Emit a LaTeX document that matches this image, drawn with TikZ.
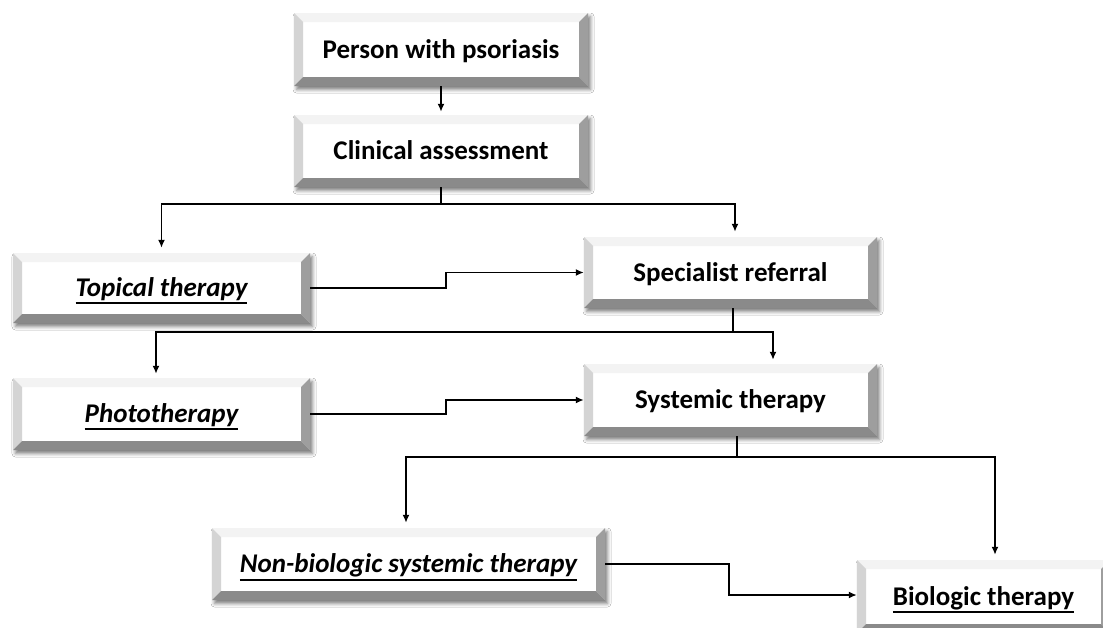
\documentclass[tikz,border=0pt]{standalone}
\usepackage{fontspec}
\setmainfont{Carlito}
\usetikzlibrary{arrows.meta,shadows.blur}

\definecolor{bevtop}{HTML}{F3F3F3}
\definecolor{bevleft}{HTML}{D4D4D4}
\definecolor{bevright}{HTML}{9E9E9E}
\definecolor{bevbottom}{HTML}{8A8A8A}

% underlined label text; the rule sits below the descenders and takes no room
\newcommand{\undl}[1]{\setbox0=\hbox{#1}%
  \rlap{\smash{\raisebox{\dimexpr-\dp0-3.3pt\relax}{\rule{\wd0}{1.8pt}}}}\box0}

\tikzset{
  bevelbox/.style={
    rectangle, fill=white, inner sep=0pt, align=center,
    text height=20pt, text depth=2.6pt,
    font=\fontsize{27}{32}\selectfont\bfseries,
    blur shadow={shadow xshift=2.5pt, shadow yshift=-3.5pt,
                 shadow blur radius=3.5pt, shadow opacity=50},
    path picture={
      \coordinate (bNW) at (path picture bounding box.north west);
      \coordinate (bNE) at (path picture bounding box.north east);
      \coordinate (bSW) at (path picture bounding box.south west);
      \coordinate (bSE) at (path picture bounding box.south east);
      \fill[bevtop] (bNW) -- (bNE) -- ([shift={(-9pt,-9pt)}]bNE)
        -- ([shift={(9pt,-9pt)}]bNW) -- cycle;
      \fill[bevleft] (bNW) -- ([shift={(9pt,-9pt)}]bNW)
        -- ([shift={(9pt,9pt)}]bSW) -- (bSW) -- cycle;
      \fill[bevright] (bNE) -- (bSE) -- ([shift={(-9pt,9pt)}]bSE)
        -- ([shift={(-9pt,-9pt)}]bNE) -- cycle;
      \fill[bevbottom] (bSW) -- (bSE) -- ([shift={(-9pt,9pt)}]bSE)
        -- ([shift={(9pt,9pt)}]bSW) -- cycle;
    }},
  conn/.style={line width=1.8pt, black},
  arr/.style={conn, -{Latex[length=8pt,width=7pt]}},
}

\begin{document}
\begin{tikzpicture}[x=1pt,y=-1pt]
\clip (0,0) rectangle (1103,627);
\fill[white] (0,0) rectangle (1103,627);

% boxes
\node[bevelbox, minimum width=294pt, minimum height=73pt] (person) at (441,49.5) {Person with psoriasis};
\node[bevelbox, minimum width=294pt, minimum height=72pt] (clinical) at (441,151) {Clinical assessment};
\node[bevelbox, minimum width=297pt, minimum height=70pt] (topical) at (161.5,288) {\undl{\itshape Topical therapy}};
\node[bevelbox, minimum width=293pt, minimum height=71pt] (specialist) at (730.5,272.5) {Specialist referral};
\node[bevelbox, minimum width=297pt, minimum height=72pt] (photo) at (161.5,414) {\undl{\itshape Phototherapy}};
\node[bevelbox, minimum width=293pt, minimum height=72pt] (systemic) at (730.5,400) {Systemic therapy};
\node[bevelbox, minimum width=393pt, minimum height=72pt] (nonbio) at (408.5,564) {\undl{\itshape Non-biologic systemic therapy}};
\node[bevelbox, minimum width=253pt, minimum height=73pt] (biologic) at (983.5,596.5) {\undl{Biologic therapy}};

% junction points
\coordinate (j1) at (441,204);
\coordinate (j2) at (733,332);
\coordinate (j3) at (737,457);

% connectors
\draw[arr, shorten >=3pt] (person.south) -- (clinical.north);

\draw[conn] (clinical.south) -- (j1);
\draw[arr, shorten >=5pt] (j1) -| (topical.north);
\draw[arr, shorten >=5pt] (j1) -| ([xshift=4.5pt]specialist.north);

\draw[arr] (topical.east) -- ++(136,0) |- (specialist.west);

\draw[conn] ([xshift=2.5pt]specialist.south) -- (j2);
\draw[arr, shorten >=4pt] (j2) -| ([xshift=-5.5pt]photo.north);
\draw[arr, shorten >=4pt] (j2) -| ([xshift=42.5pt]systemic.north);

\draw[arr] (photo.east) -- ++(136,0) |- (systemic.west);

\draw[conn] ([xshift=6.5pt]systemic.south) -- (j3);
\draw[arr, shorten >=5pt] (j3) -| ([xshift=-2.5pt]nonbio.north);
\draw[arr, shorten >=5pt] (j3) -| ([xshift=11.5pt]biologic.north);

\draw[arr] (nonbio.east) -- ++(124,0) |- ([yshift=1.5pt]biologic.west);
\end{tikzpicture}
\end{document}
